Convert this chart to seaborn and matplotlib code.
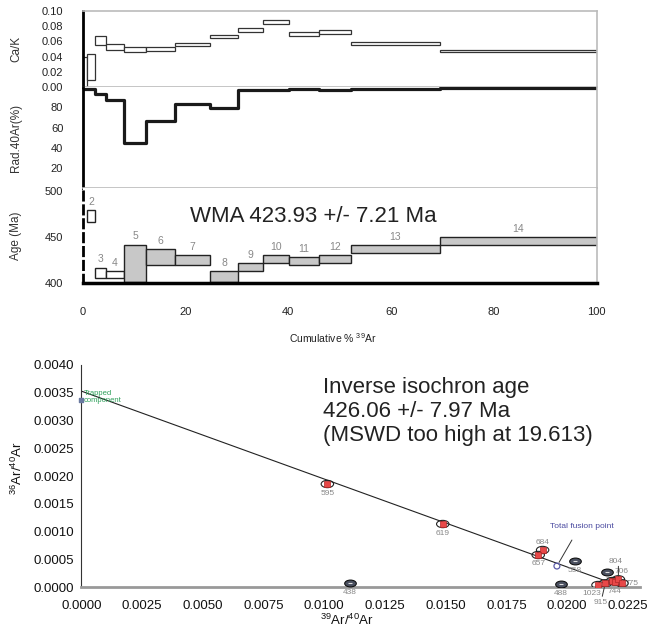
import numpy as np
import pandas as pd
import matplotlib
matplotlib.use('Agg')
import matplotlib.pyplot as plt
import seaborn as sns
from matplotlib.path import Path
from matplotlib.transforms import Affine2D

sns.set_theme(style='white')
plt.rcParams['font.family'] = ['Liberation Sans', 'DejaVu Sans']
plt.rcParams['mathtext.fontset'] = 'custom'
plt.rcParams['mathtext.rm'] = 'Liberation Sans'
plt.rcParams['mathtext.it'] = 'Liberation Sans:italic'

# step heating results (14 steps), edges in cumulative % 39Ar
step_no = list(range(1, 15))
cum_edges = [0, 0.9, 2.4, 4.6, 8.0, 12.4, 18.0, 24.7, 30.3, 35.0, 40.1, 46.0, 52.1, 69.5, 100]
cak = [0.020, 0.026, 0.061, 0.053, 0.049, 0.050, 0.056, 0.066, 0.0745, 0.085, 0.0696, 0.0718, 0.057, 0.0475]
cak_err = [0.020, 0.017, 0.0056, 0.004, 0.0031, 0.0023, 0.0021, 0.0019, 0.0023, 0.0026, 0.0026, 0.0025, 0.0021, 0.0013]
rad40 = [98.0, 98.0, 93.0, 87.5, 44.9, 66.2, 83.3, 79.4, 97.1, 97.1, 98.1, 97.1, 98.7, 99.7]
age = [np.nan, 473.3, 411.4, 409.7, 421.8, 428.3, 425.2, 407.7, 418.0, 426.6, 424.0, 426.5, 437.5, 445.8]
age_err = [np.nan, 6.4, 5.6, 4.0, 20.2, 8.7, 5.6, 6.0, 4.3, 4.2, 4.3, 4.0, 4.2, 4.2]
in_plateau = [False, False, False, False] + [True] * 10
wma_text = 'WMA 423.93 +/- 7.21 Ma'

# inverse isochron points
inc_labels = ['595', '619', '684', '657', '1023', '915', '793', '744', '804', '775']
inc_x = [0.01013, 0.01488, 0.01899, 0.01881, 0.02127, 0.02157, 0.02186, 0.02197, 0.02211, 0.02226]
inc_y = [0.001856, 0.001135, 0.000667, 0.000577, 0.000036, 0.000067, 0.000108, 0.000096, 0.000139, 0.000067]
exc_labels = ['438', '488', '558', '706']
exc_x = [0.01107, 0.01974, 0.02033, 0.02164]
exc_y = [0.0000667, 0.0000486, 0.000468, 0.000265]
total_fusion = (0.01958, 0.000378)
trapped = (0.0, 0.00337)
fit_y0 = 0.00353
fit_x0 = 0.02228
iso_text = 'Inverse isochron age\n426.06 +/- 7.97 Ma\n(MSWD too high at 19.613)'

steps = pd.DataFrame({
    'step': step_no,
    'left': cum_edges[:-1],
    'width': np.diff(cum_edges),
    'cak': cak, 'cak_err': cak_err,
    'rad': rad40,
    'age': age, 'age_err': age_err,
    'plateau': in_plateau,
})

fig = plt.figure(figsize=(6.54, 6.34), dpi=100)
ax_ck = fig.add_axes([0.1265, 0.8623, 0.786, 0.1208])
ax_rad = fig.add_axes([0.1265, 0.7036, 0.786, 0.1587], sharex=ax_ck)
ax_age = fig.add_axes([0.1265, 0.5531, 0.786, 0.1505], sharex=ax_ck)
ax_iso = fig.add_axes([0.1243, 0.0741, 0.8543, 0.3502])

grey = '#bbbbbb'

# Ca/K
ax_ck.bar(steps['left'], 2 * steps['cak_err'], bottom=steps['cak'] - steps['cak_err'],
          width=steps['width'], align='edge', facecolor='white', edgecolor='#333333', linewidth=0.9)
ax_ck.set_ylim(0, 0.10)
ax_ck.set_yticks([0, 0.02, 0.04, 0.06, 0.08, 0.10])
ax_ck.set_yticklabels([f'{v:.2f}' for v in [0, 0.02, 0.04, 0.06, 0.08, 0.10]])
ax_ck.set_ylabel('Ca/K', fontsize=8.5, color='#333333')
ax_ck.yaxis.set_label_coords(-0.118, 0.5)

# radiogenic 40Ar
sns.lineplot(x=cum_edges, y=rad40 + [rad40[-1]], drawstyle='steps-post', color='#1a1a1a',
             linewidth=2.3, estimator=None, sort=False, ax=ax_rad)
ax_rad.set_ylim(0, 100)
ax_rad.set_yticks([20, 40, 60, 80])
ax_rad.set_ylabel('Rad.40Ar(%)', fontsize=8.5, color='#333333')
ax_rad.yaxis.set_label_coords(-0.118, 0.5)

# age spectrum
ag = steps.dropna(subset=['age'])
for plat, face in [(False, 'white'), (True, '#c8c8c8')]:
    sub = ag[ag['plateau'] == plat]
    ax_age.bar(sub['left'], 2 * sub['age_err'], bottom=sub['age'] - sub['age_err'],
               width=sub['width'], align='edge', facecolor=face, edgecolor='#222222', linewidth=1.0)
for _, r in ag.iterrows():
    ax_age.text(r['left'] + r['width'] / 2, r['age'] + r['age_err'] + 3.5, str(int(r['step'])),
                ha='center', va='bottom', fontsize=7.5, color='#888888')
ax_age.text(0.2088, 0.70, wma_text, transform=ax_age.transAxes, ha='left', va='center',
            fontsize=16, color='#222222')
ax_age.set_ylim(400, 503.7)
ax_age.set_yticks([400, 450, 500])
ax_age.set_ylabel('Age (Ma)', fontsize=8.5, color='#333333')
ax_age.yaxis.set_label_coords(-0.118, 0.5)
ax_age.set_xlim(0, 100)
ax_age.set_xticks([0, 20, 40, 60, 80, 100])
ax_age.set_xlabel('Cumulative % $^{39}$Ar', fontsize=7.5, color='#222222')
ax_age.xaxis.set_label_coords(0.487, -0.50)

for ax in (ax_ck, ax_rad, ax_age):
    ax.tick_params(axis='y', length=0, pad=14, labelsize=8, labelcolor='#222222')
    ax.tick_params(axis='x', length=0, pad=17, labelsize=8, labelcolor='#222222')
    ax.spines['right'].set_color(grey)
    ax.spines['right'].set_linewidth(1.2)
    ax.spines['left'].set_color('black')
    ax.spines['left'].set_linewidth(2)
    ax.spines['top'].set_visible(False)
    ax.spines['bottom'].set_color(grey)
    ax.spines['bottom'].set_linewidth(1.2)
ax_ck.spines['top'].set_visible(True)
ax_ck.spines['top'].set_color(grey)
ax_ck.spines['top'].set_linewidth(1.2)
ax_ck.tick_params(axis='x', labelbottom=False)
ax_rad.tick_params(axis='x', labelbottom=False)
ax_age.spines['left'].set_linestyle((0, (3, 2)))
ax_age.spines['bottom'].set_color('black')
ax_age.spines['bottom'].set_linewidth(2.5)

# inverse isochron
ellipse = Path.unit_circle().transformed(Affine2D().scale(1.7, 1.0))
inc_df = pd.DataFrame({'x': inc_x, 'y': inc_y, 'label': inc_labels})
exc_df = pd.DataFrame({'x': exc_x, 'y': exc_y, 'label': exc_labels})

ax_iso.plot([0, fit_x0], [fit_y0, 0], color='#222222', linewidth=0.8, zorder=2)
ax_iso.scatter(exc_df['x'], exc_df['y'], marker=ellipse, s=70, facecolor='#4a5060',
               edgecolor='#111111', linewidth=0.8, zorder=3)
ax_iso.scatter(exc_df['x'], exc_df['y'], marker='_', s=10, color='#dddddd', linewidth=0.8, zorder=3)
ax_iso.scatter(inc_df['x'], inc_df['y'], marker=ellipse, s=80, facecolor='none',
               edgecolor='#222222', linewidth=0.8, zorder=3)
sns.scatterplot(data=inc_df, x='x', y='y', marker='s', s=22, color='#e84848',
                edgecolor='#b02828', linewidth=0.5, ax=ax_iso, zorder=4)
ax_iso.scatter([total_fusion[0]], [total_fusion[1]], marker='o', s=18, facecolor='none',
               edgecolor='#5a5aa8', linewidth=0.9, zorder=4)
ax_iso.scatter([trapped[0]], [trapped[1]], marker='s', s=6, color='#6a7aa0', zorder=4, clip_on=False)

label_offsets = {
    '595': (0, -9), '619': (0, -9), '684': (0, 7), '657': (0, -9), '1023': (-6, -8),
    '915': (-5, -19), '793': (0, 1), '744': (0, -10), '804': (-3, 18), '775': (10, 0),
    '438': (0, -9), '488': (0, -9), '558': (0, -9), '706': (15, 1),
}
for lab, x, y in list(zip(inc_labels, inc_x, inc_y)) + list(zip(exc_labels, exc_x, exc_y)):
    dx, dy = label_offsets[lab]
    ax_iso.annotate(lab, (x, y), xytext=(dx, dy), textcoords='offset pixels', ha='center',
                    va='center', fontsize=6, color='#888888', zorder=2)
# leader lines
p804 = inc_x[inc_labels.index('804')], inc_y[inc_labels.index('804')]
ax_iso.annotate('', xy=p804, xytext=(0, 13), textcoords='offset pixels',
                arrowprops=dict(arrowstyle='-', color='#333333', lw=0.7, shrinkA=0, shrinkB=2))
p915 = inc_x[inc_labels.index('915')], inc_y[inc_labels.index('915')]
ax_iso.annotate('', xy=p915, xytext=(-3, -13), textcoords='offset pixels',
                arrowprops=dict(arrowstyle='-', color='#333333', lw=0.7, shrinkA=0, shrinkB=3))
ax_iso.annotate('', xy=total_fusion, xytext=(15, 26), textcoords='offset pixels',
                arrowprops=dict(arrowstyle='-', color='#333333', lw=0.7, shrinkA=0, shrinkB=3))
ax_iso.annotate('Total fusion point', total_fusion, xytext=(25, 40), textcoords='offset pixels',
                ha='center', va='center', fontsize=6, color='#4a4aa0')
ax_iso.text(0.0001, fit_y0 + 0.00002, 'Trapped\ncomponent', ha='left', va='top', fontsize=5.5,
            color='#2ea05a', linespacing=0.95)

ax_iso.text(0.4326, 0.947, iso_text, transform=ax_iso.transAxes, ha='left', va='top',
            fontsize=16, color='#222222', linespacing=1.2)

ax_iso.set_xlim(0, 0.0230)
ax_iso.set_ylim(0, 0.0040)
xt = np.arange(0, 0.02251, 0.0025)
yt = np.arange(0, 0.00401, 0.0005)
ax_iso.set_xticks(xt)
ax_iso.set_xticklabels([f'{v:.4f}' for v in xt])
ax_iso.set_yticks(yt)
ax_iso.set_yticklabels([f'{v:.4f}' for v in yt])
ax_iso.tick_params(axis='both', direction='out', length=3, width=0.8, color='#555555',
                   labelsize=9.5, labelcolor='#111111')
ax_iso.tick_params(axis='x', pad=6)
ax_iso.tick_params(axis='y', pad=2)
ax_iso.spines['top'].set_visible(False)
ax_iso.spines['right'].set_visible(False)
ax_iso.spines['left'].set_color('#333333')
ax_iso.spines['left'].set_linewidth(0.8)
ax_iso.spines['bottom'].set_color('#999999')
ax_iso.spines['bottom'].set_linewidth(2)
ax_iso.set_xlabel('$^{39}$Ar/$^{40}$Ar', fontsize=9.5, color='#111111')
ax_iso.xaxis.set_label_coords(0.4756, -0.115)
ax_iso.set_ylabel('$^{36}$Ar/$^{40}$Ar', fontsize=9.5, color='#111111')
ax_iso.yaxis.set_label_coords(-0.10, 0.536)

fig.savefig('out.png', dpi=100)
